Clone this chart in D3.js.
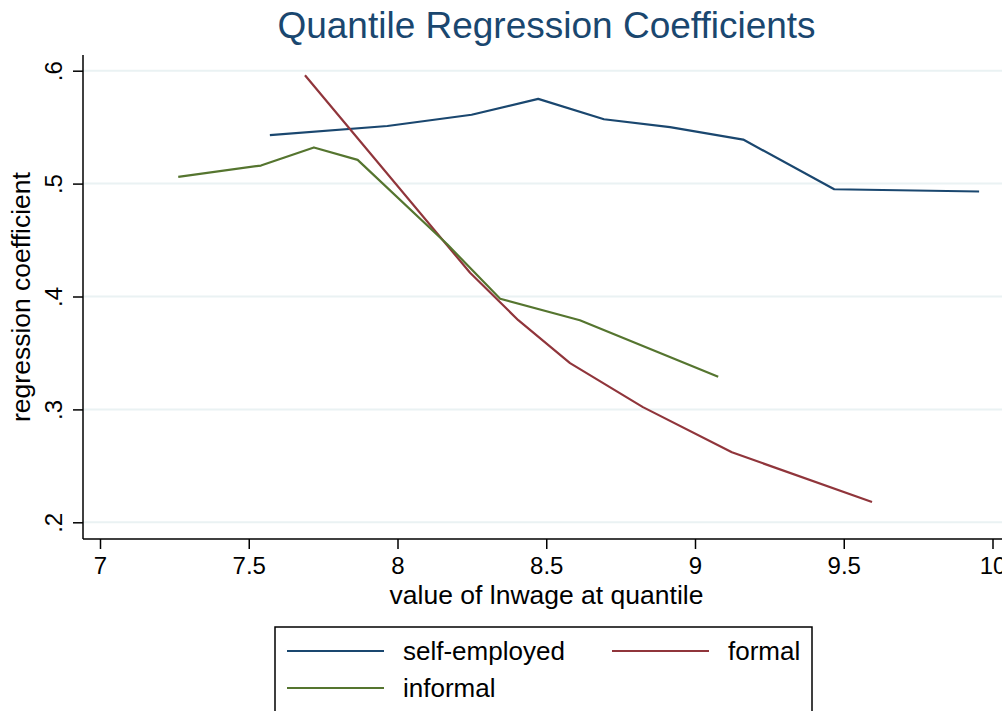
<!DOCTYPE html>
<html>
<head>
<meta charset="utf-8">
<script src="https://cdn.jsdelivr.net/npm/d3@7"></script>
<style>
  html, body { margin: 0; padding: 0; background: #ffffff; }
  svg { display: block; font-family: "Liberation Sans", Arial, Helvetica, sans-serif; }
</style>
</head>
<body>
<svg id="chart" width="1002" height="711"></svg>
<script>
// Quantile regression coefficients by value of lnwage at each quantile
const seriesNames = ["self-employed", "formal", "informal"];
const seriesColors = ["#1a476f", "#90353b", "#55752f"];

const selfEmpX = [7.571, 7.966, 8.249, 8.473, 8.694, 8.916, 9.162, 9.468, 9.955];
const selfEmpY = [0.543, 0.551, 0.561, 0.575, 0.557, 0.550, 0.539, 0.495, 0.493];

const formalX = [7.689, 8.244, 8.406, 8.580, 8.825, 9.124, 9.595];
const formalY = [0.596, 0.421, 0.379, 0.341, 0.302, 0.262, 0.218];

const informalX = [7.263, 7.541, 7.719, 7.866, 8.168, 8.345, 8.613, 9.078];
const informalY = [0.506, 0.516, 0.532, 0.521, 0.446, 0.398, 0.379, 0.329];

const xTicks = [7, 7.5, 8, 8.5, 9, 9.5, 10];
const yTicks = [0.2, 0.3, 0.4, 0.5, 0.6];
const xTickLabels = ["7", "7.5", "8", "8.5", "9", "9.5", "10"];
const yTickLabels = [".2", ".3", ".4", ".5", ".6"];

const titleText = "Quantile Regression Coefficients";
const xTitle = "value of lnwage at quantile";
const yTitle = "regression coefficient";

const svg = d3.select("#chart");

// plot region
const plotLeft = 83, plotRight = 1010, plotTop = 55, plotBottom = 539;

const x = d3.scaleLinear().domain([7, 10]).range([100, 992.5]);
const y = d3.scaleLinear().domain([0.2, 0.6]).range([522.3, 70.7]);

// horizontal grid lines
svg.append("g")
  .selectAll("line")
  .data(yTicks)
  .join("line")
  .attr("x1", plotLeft).attr("x2", plotRight)
  .attr("y1", d => y(d)).attr("y2", d => y(d))
  .attr("stroke", "#eaf2f3")
  .attr("stroke-width", 2);

// series lines
const series = [
  { name: seriesNames[0], xs: selfEmpX, ys: selfEmpY, color: seriesColors[0] },
  { name: seriesNames[1], xs: formalX, ys: formalY, color: seriesColors[1] },
  { name: seriesNames[2], xs: informalX, ys: informalY, color: seriesColors[2] }
];

const line = d3.line().x(d => x(d[0])).y(d => y(d[1]));

svg.append("g")
  .selectAll("path")
  .data(series)
  .join("path")
  .attr("d", s => line(d3.zip(s.xs, s.ys)))
  .attr("fill", "none")
  .attr("stroke", s => s.color)
  .attr("stroke-width", 2.2)
  .attr("stroke-linejoin", "round");

// y axis
const yAxis = d3.axisLeft(y)
  .tickValues(yTicks)
  .tickFormat((d, i) => yTickLabels[i])
  .tickSize(10)
  .tickSizeOuter(0);

const gy = svg.append("g").attr("transform", `translate(${plotLeft},0)`).call(yAxis);
gy.select(".domain").remove();
gy.selectAll(".tick line").attr("stroke", "#000").attr("stroke-width", 1.5);
gy.selectAll(".tick text")
  .attr("x", null).attr("dy", null)
  .attr("font-size", 24)
  .attr("fill", "#000")
  .attr("text-anchor", "middle")
  .attr("transform", "translate(-21,0) rotate(-90)");

svg.append("line")
  .attr("x1", plotLeft).attr("x2", plotLeft)
  .attr("y1", plotTop).attr("y2", plotBottom)
  .attr("stroke", "#000").attr("stroke-width", 1.5);

// x axis
const xAxis = d3.axisBottom(x)
  .tickValues(xTicks)
  .tickFormat((d, i) => xTickLabels[i])
  .tickSize(10)
  .tickSizeOuter(0);

const gx = svg.append("g").attr("transform", `translate(0,${plotBottom})`).call(xAxis);
gx.select(".domain").remove();
gx.selectAll(".tick line").attr("stroke", "#000").attr("stroke-width", 1.5);
gx.selectAll(".tick text")
  .attr("dy", null)
  .attr("y", 35)
  .attr("font-size", 24)
  .attr("fill", "#000");

svg.append("line")
  .attr("x1", plotLeft).attr("x2", plotRight)
  .attr("y1", plotBottom).attr("y2", plotBottom)
  .attr("stroke", "#000").attr("stroke-width", 1.5);

// titles
const midX = (plotLeft + plotRight) / 2;
svg.append("text")
  .attr("x", midX).attr("y", 38)
  .attr("text-anchor", "middle")
  .attr("font-size", 37)
  .attr("fill", "#1a476f")
  .text(titleText);

svg.append("text")
  .attr("x", midX).attr("y", 604)
  .attr("text-anchor", "middle")
  .attr("font-size", 26.5)
  .attr("fill", "#000")
  .text(xTitle);

svg.append("text")
  .attr("transform", `translate(30,${(plotTop + plotBottom) / 2}) rotate(-90)`)
  .attr("text-anchor", "middle")
  .attr("font-size", 26.5)
  .attr("fill", "#000")
  .text(yTitle);

// legend
const legend = svg.append("g");
legend.append("rect")
  .attr("x", 275).attr("y", 627)
  .attr("width", 537).attr("height", 110)
  .attr("fill", "#fff")
  .attr("stroke", "#000")
  .attr("stroke-width", 1.5);

const legendPos = [
  { lx: 287, ly: 651 },
  { lx: 612, ly: 651 },
  { lx: 287, ly: 688 }
];

const items = legend.selectAll("g.item")
  .data(series)
  .join("g")
  .attr("class", "item")
  .attr("transform", (s, i) => `translate(${legendPos[i].lx},${legendPos[i].ly})`);

items.append("line")
  .attr("x1", 0).attr("x2", 97)
  .attr("y1", 0).attr("y2", 0)
  .attr("stroke", s => s.color)
  .attr("stroke-width", 2.2);

items.append("text")
  .attr("x", 116).attr("y", 9)
  .attr("font-size", 26)
  .attr("fill", "#000")
  .text(s => s.name);
</script>
</body>
</html>
